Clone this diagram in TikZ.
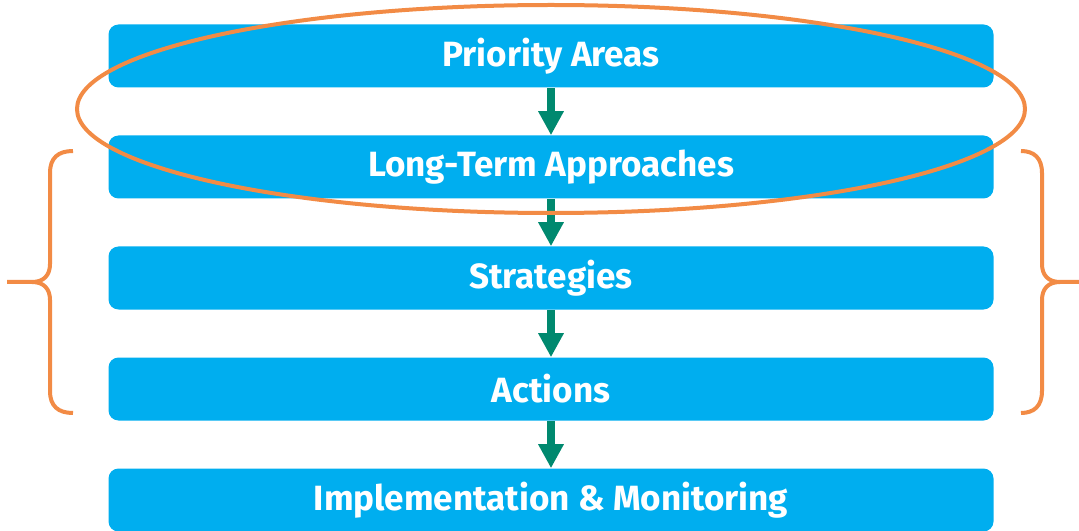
\documentclass[tikz,border=0pt]{standalone}
\usepackage{fontspec}
\setmainfont{Fira Sans}
\usetikzlibrary{arrows.meta,positioning}
\definecolor{boxblue}{HTML}{00AEEF}
\definecolor{arrowgreen}{HTML}{00896F}
\definecolor{ringorange}{HTML}{F28B45}

\begin{document}
\begin{tikzpicture}[x=0.75pt,y=-0.75pt,
    stage/.style={fill=boxblue, rounded corners=7.5pt, minimum width=663.75pt,
      minimum height=47.25pt, inner sep=0pt, text=white,
      font=\bfseries\fontsize{26.3}{30}\selectfont},
    flow/.style={draw=arrowgreen, line width=6pt, -{Triangle[width=18pt,length=18pt]}},
    ring/.style={draw=ringorange, line width=3pt}]
\useasboundingbox (0,0) rectangle (1079,531);

\node[stage] (b1) at (551,56) {Priority Areas};
\node[stage] (b2) at (551,167) {Long-Term Approaches};
\node[stage] (b3) at (551,278) {Strategies};
\node[stage] (b4) at (551,389) {Actions};
\node[stage] (b5) at (551,500) {Implementation \& Monitoring};

\foreach \a/\b in {b1/b2,b2/b3,b3/b4,b4/b5}
    \draw[flow] (\a) -- (\b);

% braces
\draw[ring] (73,151) .. controls (58,151) and (50,158) .. (50,173) -- (50,264)
    .. controls (50,275) and (44,282) .. (32,282) -- (7,282);
\draw[ring] (32,282) .. controls (44,282) and (50,289) .. (50,300) -- (50,391)
    .. controls (50,406) and (58,413) .. (73,413);
\draw[ring] (1021,151) .. controls (1034,151) and (1042,158) .. (1042,173) -- (1042,264)
    .. controls (1042,275) and (1048,282) .. (1060,282) -- (1085,282);
\draw[ring] (1060,282) .. controls (1048,282) and (1042,289) .. (1042,300) -- (1042,391)
    .. controls (1042,406) and (1034,413) .. (1021,413);

\draw[ring] (551,109) ellipse [x radius=355.5pt, y radius=78pt];
\end{tikzpicture}
\end{document}
